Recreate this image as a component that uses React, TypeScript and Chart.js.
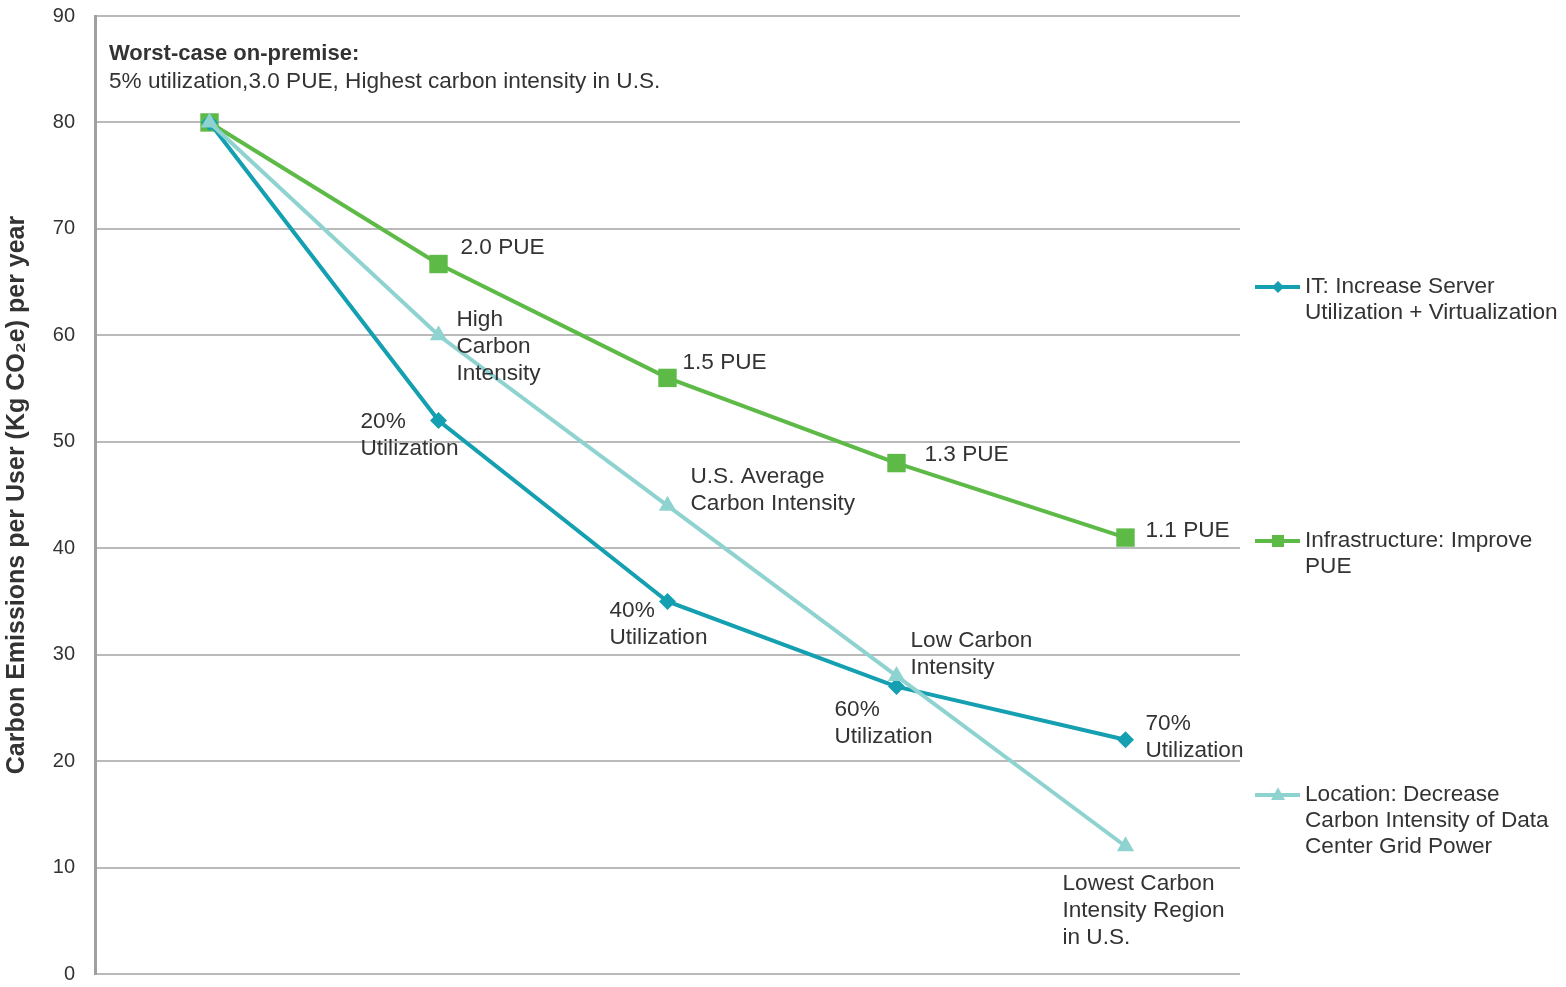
import React, { useEffect, useRef } from "react";
import { Chart, registerables } from "chart.js";

Chart.register(...registerables);

// ---- Data ----
const categories = ["Worst case", "Step 1", "Step 2", "Step 3", "Step 4"];
const itValues = [80, 52, 35, 27, 22];
const infraValues = [80, 66.7, 56, 48, 41];
const locationValues = [80, 60, 44, 28, 12];

const itName = ["IT: Increase Server", "Utilization + Virtualization"];
const infraName = ["Infrastructure: Improve", "PUE"];
const locationName = ["Location: Decrease", "Carbon Intensity of Data", "Center Grid Power"];

const itLabels = [null, ["20%", "Utilization"], ["40%", "Utilization"], ["60%", "Utilization"], ["70%", "Utilization"]];
const infraLabels = [null, ["2.0 PUE"], ["1.5 PUE"], ["1.3 PUE"], ["1.1 PUE"]];
const locationLabels = [
  null,
  ["High", "Carbon", "Intensity"],
  ["U.S. Average", "Carbon Intensity"],
  ["Low Carbon", "Intensity"],
  ["Lowest Carbon", "Intensity Region", "in U.S."],
];

const startTitle = "Worst-case on-premise:";
const startDetail = "5% utilization,3.0 PUE, Highest carbon intensity in U.S.";
const yAxisTitle = "Carbon Emissions per User (Kg CO\u2082e) per year";

// ---- Styling ----
const IT_COLOR = "#15a0b2";
const INFRA_COLOR = "#5dba46";
const LOC_COLOR = "#8fd3d1";
const TEXT_COLOR = "#333333";
const FONT = "'Liberation Sans', Arial, sans-serif";
const LABEL_SIZE = 22.6;
const LINE_H = 27;

// label placement (offset of first line's left/middle from its point)
const itOffsets = [null, [-78, 1], [-58, 9], [-62, 23], [20, -16]];
const infraOffsets = [null, [22, -16], [15, -15], [28, -8], [20, -7]];
const locationOffsets = [null, [18, -16], [23, -29], [14, -35], [-63, 37]];

type Marker = "diamond" | "square" | "triangle";

function drawMarker(ctx: CanvasRenderingContext2D, kind: Marker, x: number, y: number, s: number, color: string) {
  ctx.save();
  ctx.fillStyle = color;
  ctx.beginPath();
  if (kind === "diamond") {
    ctx.moveTo(x, y - s);
    ctx.lineTo(x + s, y);
    ctx.lineTo(x, y + s);
    ctx.lineTo(x - s, y);
  } else if (kind === "square") {
    ctx.rect(x - s, y - s, 2 * s, 2 * s);
  } else {
    ctx.moveTo(x, y - s * 1.1);
    ctx.lineTo(x + s, y + s * 0.7);
    ctx.lineTo(x - s, y + s * 0.7);
  }
  ctx.closePath();
  ctx.fill();
  ctx.restore();
}

const annotationPlugin = {
  id: "pointNotes",
  afterDatasetsDraw(chart: any) {
    const { ctx, chartArea, scales } = chart;
    const x = scales.x;
    const y = scales.y;
    ctx.save();
    ctx.fillStyle = TEXT_COLOR;
    ctx.textBaseline = "middle";
    ctx.textAlign = "left";

    // starting-point note
    ctx.font = `bold ${LABEL_SIZE - 0.6}px ${FONT}`;
    ctx.fillText(startTitle, chartArea.left + 14, chartArea.top + 38);
    ctx.font = `${LABEL_SIZE}px ${FONT}`;
    ctx.fillText(startDetail, chartArea.left + 14, chartArea.top + 66);

    const groups: [number[], (string[] | null)[], (number[] | null)[]][] = [
      [itValues, itLabels, itOffsets],
      [infraValues, infraLabels, infraOffsets],
      [locationValues, locationLabels, locationOffsets],
    ];
    ctx.font = `${LABEL_SIZE}px ${FONT}`;
    for (const [vals, labels, offs] of groups) {
      vals.forEach((v, i) => {
        const lines = labels[i];
        const off = offs[i];
        if (!lines || !off) return;
        const px = x.getPixelForValue(i);
        const py = y.getPixelForValue(v);
        lines.forEach((t, k) => ctx.fillText(t, px + off[0], py + off[1] + k * LINE_H));
      });
    }
    ctx.restore();
  },
  afterDraw(chart: any) {
    const { ctx, chartArea } = chart;
    const entries: [string[], string, Marker, number][] = [
      [itName, IT_COLOR, "diamond", 271],
      [infraName, INFRA_COLOR, "square", 525],
      [locationName, LOC_COLOR, "triangle", 779],
    ];
    ctx.save();
    for (const [lines, color, kind, dy] of entries) {
      const yy = chartArea.top + dy;
      const x0 = chartArea.right + 15;
      ctx.strokeStyle = color;
      ctx.lineWidth = 4;
      ctx.beginPath();
      ctx.moveTo(x0, yy);
      ctx.lineTo(x0 + 45, yy);
      ctx.stroke();
      drawMarker(ctx, kind, x0 + 23, yy, kind === "diamond" ? 6 : kind === "square" ? 6 : 7, color);
      ctx.fillStyle = TEXT_COLOR;
      ctx.font = `${LABEL_SIZE}px ${FONT}`;
      ctx.textBaseline = "middle";
      ctx.textAlign = "left";
      lines.forEach((t, k) => ctx.fillText(t, x0 + 50, yy + k * 26));
    }
    ctx.restore();
  },
};

export default function App() {
  const canvasRef = useRef<HTMLCanvasElement | null>(null);

  useEffect(() => {
    if (!canvasRef.current) return;
    const chart = new Chart(canvasRef.current, {
      type: "line",
      data: {
        labels: categories,
        datasets: [
          {
            label: itName.join(" "),
            data: itValues,
            borderColor: IT_COLOR,
            backgroundColor: IT_COLOR,
            borderWidth: 4,
            pointStyle: "rectRot",
            pointRadius: 8.5,
            pointBorderWidth: 0,
            tension: 0,
            order: 1,
          },
          {
            label: infraName.join(" "),
            data: infraValues,
            borderColor: INFRA_COLOR,
            backgroundColor: INFRA_COLOR,
            borderWidth: 4,
            pointStyle: "rect",
            pointRadius: 13,
            pointBorderWidth: 0,
            tension: 0,
            order: 2,
          },
          {
            label: locationName.join(" "),
            data: locationValues,
            borderColor: LOC_COLOR,
            backgroundColor: LOC_COLOR,
            borderWidth: 4,
            pointStyle: "triangle",
            pointRadius: 10,
            pointBorderWidth: 0,
            tension: 0,
            order: 0,
          },
        ],
      },
      options: {
        responsive: false,
        animation: false,
        layout: { padding: { top: 0, right: 326, bottom: 0, left: 0 } },
        plugins: {
          legend: { display: false },
          tooltip: { enabled: false },
        },
        scales: {
          x: {
            display: false,
            offset: true,
          },
          y: {
            min: 0,
            max: 90,
            ticks: {
              stepSize: 10,
              padding: 20,
              color: TEXT_COLOR,
              font: { family: FONT, size: 20 },
            },
            grid: {
              color: "#bababa",
              lineWidth: 2,
              drawTicks: false,
            },
            border: { color: "#a0a0a0", width: 3 },
            title: {
              display: true,
              text: yAxisTitle,
              color: TEXT_COLOR,
              font: { family: FONT, size: 25, weight: "bold" },
              padding: { top: 2, bottom: 0 },
            },
            afterFit(scale: any) {
              scale.width = 95;
              scale.paddingTop = 16;
              scale.paddingBottom = 10;
            },
          },
        },
      },
      plugins: [annotationPlugin],
    });
    return () => chart.destroy();
  }, []);

  return (
    <div style={{ position: "absolute", left: 0, top: 0, width: 1566, height: 987, background: "#fff" }}>
      <canvas ref={canvasRef} width={1566} height={987} />
    </div>
  );
}
